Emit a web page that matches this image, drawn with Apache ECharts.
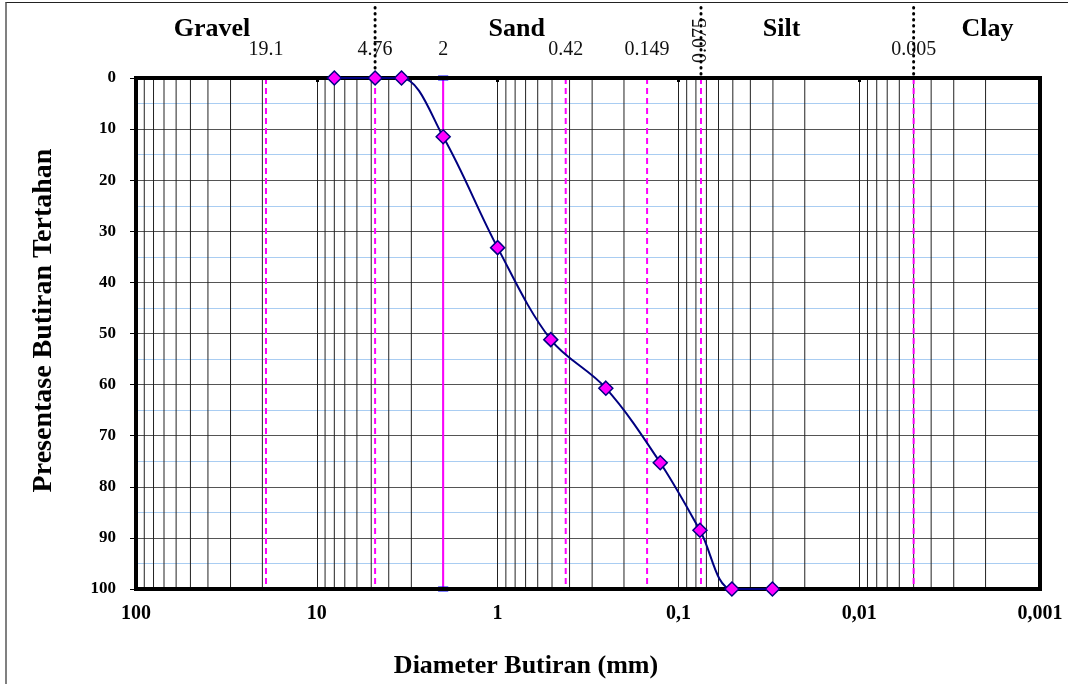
<!DOCTYPE html>
<html>
<head>
<meta charset="utf-8">
<script src="https://cdn.jsdelivr.net/npm/echarts@6/dist/echarts.min.js"></script>
<style>
  html, body { margin: 0; padding: 0; background: #fff; }
  #wrap { position: relative; width: 1068px; height: 684px; overflow: hidden; }
  #chart { position: absolute; left: 0; top: 0; width: 1068px; height: 684px; }
  #frame { position: absolute; left: 5px; top: 2px; width: 1200px; height: 800px;
           border-left: 2px solid #808080; border-top: 1px solid #222; pointer-events: none; }
</style>
</head>
<body>
<div id="wrap">
  <div id="chart"></div>
  <div id="frame"></div>
</div>
<script>
// sieve sizes (mm) and percent retained
const sizes = [8, 4.76, 3.4, 2, 1, 0.508, 0.252, 0.126, 0.076, 0.0506, 0.0302];
const retained = [0, 0, 0, 11.5, 33.2, 51.2, 60.7, 75.3, 88.5, 100, 100];

// reference lines
const dashedLines = [19.1, 4.76, 0.42, 0.149, 0.075, 0.005];
const solidLine = 2;
const zoneBounds = [4.76, 0.075, 0.005];

// labels above the plot
const sizeLabels = ['19.1', '4.76', '2', '0.42', '0.149', '0.005'];
const sizeLabelX = [19.1, 4.76, 2, 0.42, 0.149, 0.005];
const rotatedLabel = '0.075';
const rotatedLabelX = 0.075;
const zoneNames = ['Gravel', 'Sand', 'Silt', 'Clay'];
const zoneX = [38, 0.783, 0.0269, 0.00195];

// axis ticks
const xTickText = ['100', '10', '1', '0,1', '0,01', '0,001'];
const decades = [100, 10, 1, 0.1, 0.01];
const minorSteps = [0.2, 0.3, 0.4, 0.5, 0.6, 0.7, 0.8, 0.9];

const minorX = [];
decades.forEach(d => minorSteps.forEach(s => minorX.push(d * s)));

const font = '"Liberation Serif", "Times New Roman", serif';
const chart = echarts.init(document.getElementById('chart'));

// vertical line across the plot at diameter v
const vline = (v, lineStyle, z) => ({
  type: 'line', silent: true, symbol: 'none', z: z,
  data: [[v, 0], [v, 100]],
  lineStyle: lineStyle
});

// text placed in the strip above the plot
const topLabels = (xs, names, y, label) => ({
  type: 'scatter', xAxisIndex: 1, yAxisIndex: 1, symbolSize: 0, silent: true,
  itemStyle: { opacity: 1 },
  data: xs.map((v, i) => ({ value: [v, y], name: names[i] })),
  label: Object.assign({ show: true, position: 'inside', formatter: p => p.name, fontFamily: font }, label)
});

const option = {
  animation: false,
  textStyle: { fontFamily: font },
  grid: [
    { left: 136, right: 28, top: 78, bottom: 94, show: true, borderColor: '#000', borderWidth: 4, z: 10 },
    { left: 136, right: 28, top: 0, height: 78 }
  ],
  xAxis: [
    {
      type: 'log', logBase: 10, min: 0.001, max: 100, inverse: true, gridIndex: 0,
      name: 'Diameter Butiran (mm)', nameLocation: 'middle', nameGap: 64,
      nameTextStyle: { fontFamily: font, fontWeight: 'bold', fontSize: 26, color: '#000', padding: [0, 124, 0, 0] },
      axisLine: { lineStyle: { color: '#000', width: 4 } },
      axisTick: { show: true, length: 4, lineStyle: { color: '#000', width: 3 } },
      axisLabel: {
        margin: 15, fontFamily: font, fontWeight: 'bold', fontSize: 20, color: '#000',
        formatter: v => xTickText[2 - Math.round(Math.log10(v))]
      },
      splitLine: { show: true, lineStyle: { color: '#222', width: 1 } }
    },
    { type: 'log', logBase: 10, min: 0.001, max: 100, inverse: true, gridIndex: 1, show: false }
  ],
  yAxis: [
    {
      type: 'value', min: 0, max: 100, interval: 10, inverse: true, gridIndex: 0,
      name: 'Presentase Butiran Tertahan', nameLocation: 'middle', nameGap: 78, nameRotate: 90,
      nameTextStyle: { fontFamily: font, fontWeight: 'bold', fontSize: 28, color: '#000', padding: [0, 0, 0, 26] },
      axisLine: { show: true, lineStyle: { color: '#000', width: 4 } },
      axisTick: { show: true, length: 6, lineStyle: { color: '#000', width: 1 } },
      axisLabel: { margin: 20, fontFamily: font, fontWeight: 'bold', fontSize: 17, color: '#000' },
      splitLine: { show: true, lineStyle: { color: '#555', width: 1 } },
      minorTick: { show: false, splitNumber: 2 },
      minorSplitLine: { show: true, lineStyle: { color: '#a9cdf2', width: 1 } }
    },
    { type: 'value', min: 0, max: 1, gridIndex: 1, show: false }
  ],
  series: [
    // minor vertical grid lines
    ...minorX.map(v => vline(v, { color: '#222', width: 1 }, 1)),
    // magenta dashed size limits
    ...dashedLines.map(v => vline(v, { color: '#ff00ff', width: 2, type: [6, 4] }, 3)),
    {
      type: 'line', z: 3,
      data: [[solidLine, 0], [solidLine, 100]],
      lineStyle: { color: '#ff00ff', width: 2 },
      symbol: 'rect', symbolSize: [8, 4],
      itemStyle: { color: '#9fc0ff', borderColor: '#0000ff', borderWidth: 1.5 }
    },
    {
      type: 'line', z: 20,
      data: sizes.map((s, i) => [s, retained[i]]),
      smooth: 0.35,
      lineStyle: { color: '#000080', width: 2 },
      symbol: 'diamond', symbolSize: 14,
      itemStyle: { color: '#ff00ff', borderColor: '#000080', borderWidth: 1.5 }
    },
    // top area: zone dividers and labels
    ...zoneBounds.map(v => ({
      type: 'line', xAxisIndex: 1, yAxisIndex: 1, symbol: 'none', silent: true,
      data: [[v, 0.05], [v, 0.92]],
      lineStyle: { color: '#000', width: 3, type: [0.5, 5.5], cap: 'round' }
    })),
    topLabels(sizeLabelX, sizeLabels, 0.36, { fontSize: 20, color: '#111' }),
    topLabels([rotatedLabelX], [rotatedLabel], 0.52, { fontSize: 20, color: '#111', rotate: 90, offset: [-3, 0] }),
    topLabels(zoneX, zoneNames, 0.63, { fontSize: 26, fontWeight: 'bold', color: '#000' })
  ]
};

chart.setOption(option);
</script>
</body>
</html>
